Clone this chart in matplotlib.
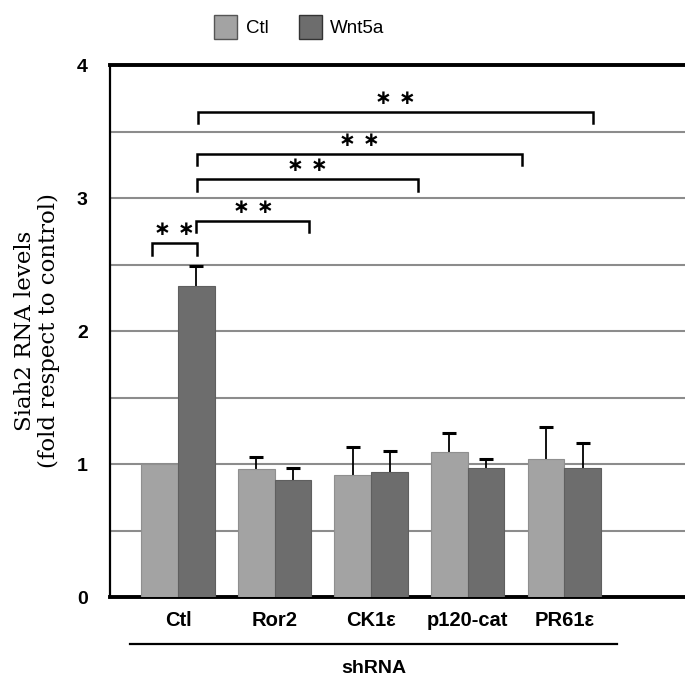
import numpy as np
import matplotlib
matplotlib.use("Agg")
import matplotlib.pyplot as plt
from matplotlib.patches import Patch

# values
groups = ["Ctl", "Ror2", "CK1ε", "p120-cat", "PR61ε"]
ctl_vals = [1.00, 0.96, 0.92, 1.09, 1.04]
ctl_err = [0.00, 0.09, 0.21, 0.14, 0.24]
wnt_vals = [2.34, 0.88, 0.94, 0.97, 0.97]
wnt_err = [0.15, 0.09, 0.16, 0.07, 0.19]

# significance brackets: (x start, x end, height)
sig_x1 = [-0.27, 0.19, 0.20, 0.20, 0.21]
sig_x2 = [0.20, 1.36, 2.48, 3.56, 4.30]
sig_y = [2.66, 2.83, 3.14, 3.33, 3.65]

light = "#a3a3a3"
dark = "#6d6d6d"

fig = plt.figure(figsize=(6.85, 6.8), dpi=100)
ax = fig.add_axes([110 / 685, 0.122, 575 / 685, 0.7824])

x = np.arange(len(groups))
w = 0.38
ax.bar(x - w / 2, ctl_vals, w, color=light, edgecolor="#8f8f8f", linewidth=0.8, zorder=3)
ax.bar(x + w / 2, wnt_vals, w, color=dark, edgecolor="#5f5f5f", linewidth=0.8, zorder=3)

# symmetric error bars drawn behind the bars, so only the upper half shows
ce = np.array(ctl_err)
m = ce > 0
ax.errorbar((x - w / 2)[m], np.array(ctl_vals)[m], yerr=ce[m],
            fmt="none", ecolor="black", elinewidth=1.3, capsize=5, capthick=2.2, zorder=2)
ax.errorbar(x + w / 2, wnt_vals, yerr=wnt_err, fmt="none",
            ecolor="black", elinewidth=1.3, capsize=5, capthick=2.2, zorder=2)

for y in np.arange(0.5, 4.0, 0.5):
    ax.axhline(y, color="#8c8c8c", lw=1.5, zorder=1)

for x1, x2, y in zip(sig_x1, sig_x2, sig_y):
    d = 0.085
    ax.plot([x1, x1, x2, x2], [y - d, y, y, y - d], color="black", lw=1.8,
            solid_joinstyle="miter", zorder=5)
    ax.text((x1 + x2) / 2, y + 0.03, "∗ ∗", ha="center", va="bottom",
            fontsize=14.5, fontweight="bold", zorder=5)

ax.set_xlim(-0.705, 5.25)
ax.set_ylim(0, 4)
ax.set_yticks([0, 1, 2, 3, 4])
ax.set_yticklabels(["0", "1", "2", "3", "4"], fontfamily="Liberation Sans",
                   fontweight="bold", fontsize=14)
ax.set_xticks(x)
ax.set_xticklabels(groups, fontfamily="Liberation Sans", fontweight="bold",
                   fontsize=14.5)
ax.tick_params(axis="x", length=0, pad=10)
ax.tick_params(axis="y", length=0, pad=16)

ax.spines["right"].set_visible(False)
ax.spines["left"].set_linewidth(1.6)
ax.spines["top"].set_linewidth(2.8)
ax.spines["bottom"].set_linewidth(2.8)

ax.set_ylabel("Siah2 RNA levels\n(fold respect to control)", fontfamily="DejaVu Serif",
              fontsize=16.5, labelpad=12, linespacing=1.1)

ax.plot([0.035, 0.882], [-0.088, -0.088], transform=ax.transAxes, color="black",
        lw=1.6, clip_on=False)
ax.text(0.458, -0.135, "shRNA", transform=ax.transAxes, ha="center", va="center",
        fontfamily="Liberation Sans", fontweight="bold", fontsize=14)

handles = [Patch(facecolor=light, edgecolor="#555555", label="Ctl"),
           Patch(facecolor=dark, edgecolor="#333333", label="Wnt5a")]
fig.legend(handles=handles, loc="center", bbox_to_anchor=(0.437, 0.960), ncol=2,
           frameon=False, handlelength=1.25, handleheight=1.6, columnspacing=1.6,
           handletextpad=0.45, prop={"family": "Liberation Sans", "size": 13.5})

fig.savefig("out.png", dpi=100)
